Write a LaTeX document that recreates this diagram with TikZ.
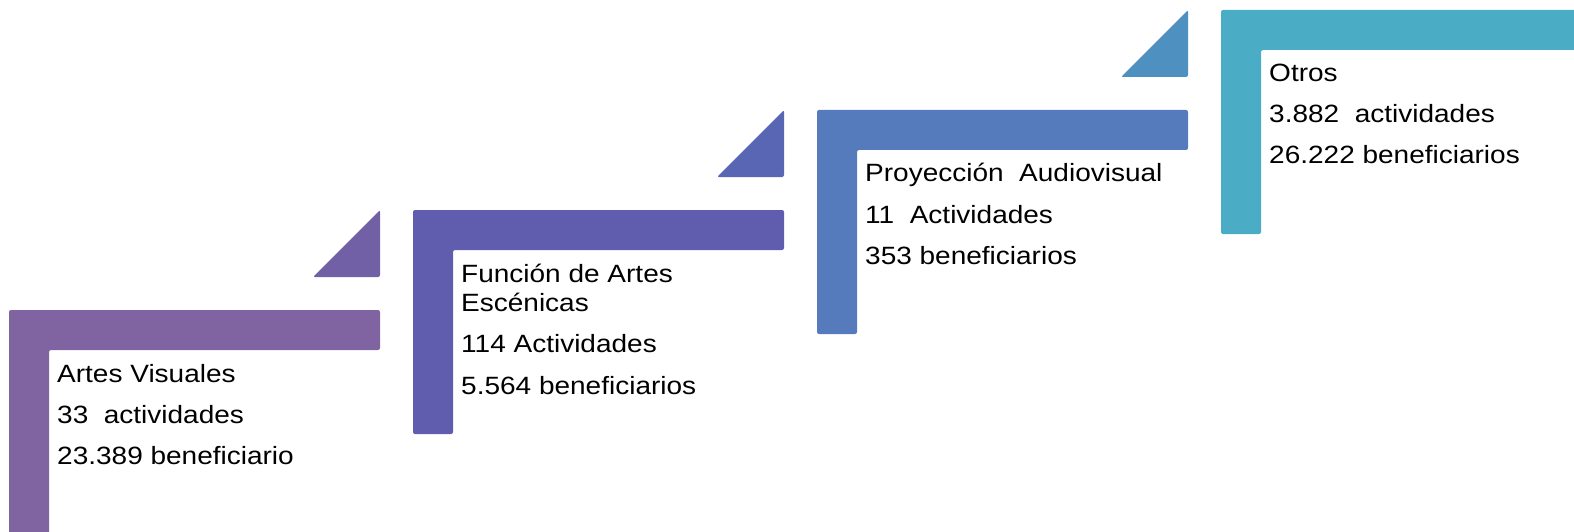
\documentclass[tikz,border=0pt]{standalone}
\usepackage{fontspec}
\setmainfont[FakeStretch=1.12]{Liberation Sans}
\definecolor{cA}{HTML}{8064A2}
\definecolor{tA}{HTML}{7260A6}
\definecolor{cB}{HTML}{605CAE}
\definecolor{tB}{HTML}{5966B3}
\definecolor{cC}{HTML}{557BBC}
\definecolor{tC}{HTML}{4E91C1}
\definecolor{cD}{HTML}{4BACC6}
\tikzset{
  lshape/.style={rounded corners=2pt},
  tri/.style={rounded corners=2pt},
  lbl/.style={anchor=base west, inner sep=0pt, text=black, font=\fontsize{25}{30}\selectfont},
}
\newcommand{\stageL}[3]{% left, top, color
  \fill[lshape,#3] (#1,#2) -- (#1+371,#2) -- (#1+371,#2+40) -- (#1+40,#2+40)
     -- (#1+40,#2+224) -- (#1,#2+224) -- cycle;}
\newcommand{\stageT}[3]{%
  \fill[tri,#3] (#1+304,#2-33) -- (#1+371,#2-100) -- (#1+371,#2-33) -- cycle;}
\begin{document}
\begin{tikzpicture}[x=1pt,y=-1pt]
\useasboundingbox (0,0) rectangle (1574,532);
\begin{scope}
\clip (0,0) rectangle (1574,532);
% stage 1
\stageL{9}{310}{cA}
\stageT{9}{310}{tA}
% stage 2
\stageL{413}{210}{cB}
\stageT{413}{210}{tB}
% stage 3
\stageL{817}{110}{cC}
\stageT{817}{110}{tC}
% stage 4
\stageL{1221}{10}{cD}
\end{scope}
% texts
\node[lbl] (a1) at (57,382) {Artes Visuales};
\node[lbl] (a2) at (57,423) {33\ \ actividades};
\node[lbl] (a3) at (57,464) {23.389 beneficiario};
\node[lbl] (b1) at (461,282) {Función de Artes};
\node[lbl] (b2) at (461,311) {Escénicas};
\node[lbl] (b3) at (461,352) {114 Actividades};
\node[lbl] (b4) at (461,394) {5.564 beneficiarios};
\node[lbl] (c1) at (865,182) {Proyección\ \ Audiovisual};
\node[lbl] (c2) at (865,223) {11\ \ Actividades};
\node[lbl] (c3) at (865,264) {353 beneficiarios};
\node[lbl] (d1) at (1269,82) {Otros};
\node[lbl] (d2) at (1269,123) {3.882\ \ actividades};
\node[lbl] (d3) at (1269,164) {26.222 beneficiarios};
\end{tikzpicture}
\end{document}
